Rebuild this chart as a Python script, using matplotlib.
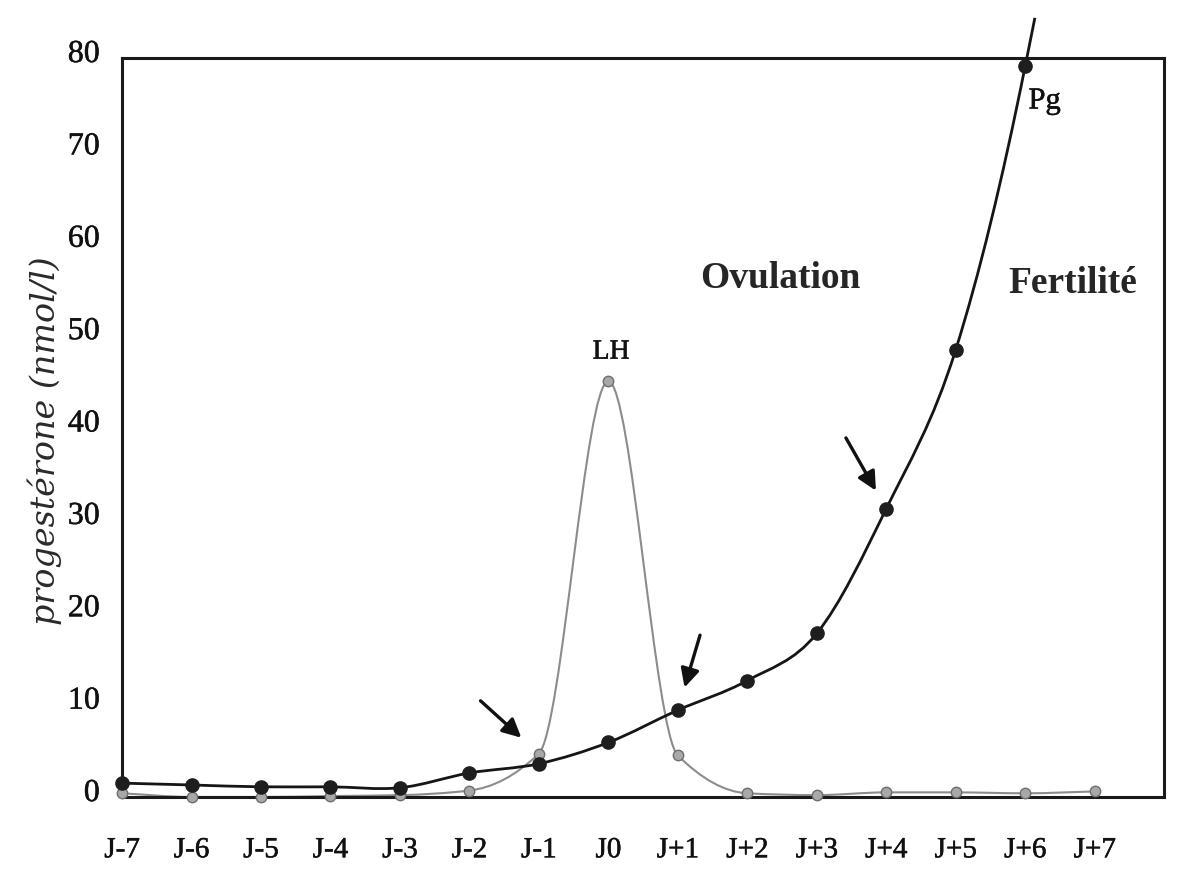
# Progesterone / LH curves around ovulation
import matplotlib

matplotlib.use("Agg")  # Non-interactive backend
import matplotlib.patheffects as pe
import matplotlib.pyplot as plt
import matplotlib.transforms as mtransforms
import numpy as np
from matplotlib.patches import PathPatch
from matplotlib.path import Path

# Data
days = list(range(-7, 8))
day_labels = ["J-7", "J-6", "J-5", "J-4", "J-3", "J-2", "J-1", "J0",
              "J+1", "J+2", "J+3", "J+4", "J+5", "J+6", "J+7"]
pg_days = days[:14]
pg_values = [1.5, 1.3, 1.1, 1.1, 1.0, 2.6, 3.6, 5.9, 9.4, 12.6, 17.7, 31.2, 48.4, 79.1]
lh_values = [0.4, 0.0, 0.0, 0.1, 0.2, 0.7, 4.7, 45.0, 4.5, 0.4, 0.2, 0.5, 0.5, 0.4, 0.6]
y_ticks = [0, 10, 20, 30, 40, 50, 60, 70, 80]

# arrows: (series, day index, tail offset in points, gap before target in points)
arrow_specs = [
    ("lh", 6, (-42, 38), 17),
    ("pg", 8, (16, 54), 17),
    ("pg", 11, (-29, 51), 15),
]


def pchip_slopes(x, y):
    """Monotone cubic (Fritsch-Carlson) slopes, no overshoot."""
    x = np.asarray(x, float)
    y = np.asarray(y, float)
    h = np.diff(x)
    d = np.diff(y) / h
    m = np.zeros_like(y)
    for k in range(1, len(y) - 1):
        if d[k - 1] * d[k] > 0:
            w1 = 2 * h[k] + h[k - 1]
            w2 = h[k] + 2 * h[k - 1]
            m[k] = (w1 + w2) / (w1 / d[k - 1] + w2 / d[k])
    m[0] = d[0]
    m[-1] = d[-1]
    return m


def cardinal_slopes(x, y):
    """Catmull-Rom slopes, gives the softer hand-drawn look."""
    x = np.asarray(x, float)
    y = np.asarray(y, float)
    m = np.gradient(y, x)
    # steeper end tangent so the curve keeps rising past the frame
    d = np.diff(y) / np.diff(x)
    m[-1] = 1.5 * d[-1] - 0.5 * d[-2]
    return m


def smooth_path(x, y, slopes, tail=0.0):
    """Bezier path through the points, optionally continued past the last one."""
    m = slopes(x, y)
    verts = [(x[0], y[0])]
    codes = [Path.MOVETO]
    for k in range(len(x) - 1):
        h = x[k + 1] - x[k]
        verts += [(x[k] + h / 3, y[k] + m[k] * h / 3),
                  (x[k + 1] - h / 3, y[k + 1] - m[k + 1] * h / 3),
                  (x[k + 1], y[k + 1])]
        codes += [Path.CURVE4] * 3
    if tail:
        verts.append((x[-1] + tail, y[-1] + m[-1] * tail))
        codes.append(Path.LINETO)
    return Path(verts, codes)


fig = plt.figure(figsize=(11.78, 8.89), dpi=100)
ax = fig.add_axes([0.1036, 0.1035, 0.8846, 0.8313])

# slightly heavier strokes on the serif text, like the scanned original
heavy = [pe.withStroke(linewidth=0.35, foreground="#111111")]

# LH curve (grey)
ax.add_patch(PathPatch(smooth_path(days, lh_values, pchip_slopes), facecolor="none",
                       edgecolor="#8c8c8c", lw=1.5, zorder=2, clip_on=False))
ax.plot(days, lh_values, "o", ls="none", ms=7.5, color="#a8a8a8",
        mec="#6e6e6e", mew=1, zorder=3, clip_on=False)

# Progesterone curve (black), runs over the top of the frame
ax.add_patch(PathPatch(smooth_path(pg_days, pg_values, cardinal_slopes, tail=0.14),
                       facecolor="none", edgecolor="#151515", lw=2.0, zorder=4,
                       clip_on=False))
ax.plot(pg_days, pg_values, "o", ls="none", ms=9.5, color="#1e1e1e",
        zorder=5, clip_on=False)

# arrows
for series, i, offset, gap in arrow_specs:
    yv = lh_values[i] if series == "lh" else pg_values[i]
    ax.annotate("", xy=(days[i], yv), xytext=offset, textcoords="offset points",
                arrowprops=dict(arrowstyle="-|>", color="#111111", lw=2.4,
                                mutation_scale=28, shrinkA=0, shrinkB=gap),
                zorder=6)

# labels on the curves
ax.annotate("LH", xy=(days[7], lh_values[7]), xytext=(2, 21), textcoords="offset points",
            ha="center", va="center", fontsize=20, family="Liberation Serif",
            color="#111111", path_effects=heavy)
ax.annotate("Pg", xy=(pg_days[-1], pg_values[-1]), xytext=(14, -25), textcoords="offset points",
            ha="center", va="center", fontsize=22, family="Liberation Serif",
            color="#111111", path_effects=heavy)
ax.text(2.47, 56.1, "Ovulation", ha="center", va="center", fontsize=27,
        family="Liberation Serif", fontweight="bold", color="#262626")
ax.text(6.68, 55.6, "Fertilité", ha="center", va="center", fontsize=27,
        family="Liberation Serif", fontweight="bold", color="#262626")

ax.set_xlim(-7, 8)
ax.set_ylim(0, 80)
ax.set_xticks(days)
ax.set_xticklabels(day_labels, family="Liberation Serif", fontsize=21)
ax.set_yticks(y_ticks)
ax.set_yticklabels([str(v) for v in y_ticks], family="Liberation Serif", fontsize=23)
ax.tick_params(axis="x", length=0, pad=29, colors="#111111")
ax.tick_params(axis="y", length=0, pad=16, colors="#111111")
ax.set_ylabel("progestérone (nmol/l)", family="DejaVu Serif", style="italic",
              fontsize=24, color="#2a2a2a")
ax.yaxis.set_label_coords(-0.058, 0.482)

# y labels sit a little above their gridline in the original
shift = mtransforms.ScaledTranslation(0, 5 / 72, fig.dpi_scale_trans)
for lab in ax.get_yticklabels():
    lab.set_transform(lab.get_transform() + shift)
    lab.set_path_effects(heavy)
for lab in ax.get_xticklabels():
    lab.set_path_effects(heavy)

for side in ["left", "right", "top", "bottom"]:
    ax.spines[side].set_linewidth(2.2)
    ax.spines[side].set_color("#1a1a1a")

fig.savefig("out.png", dpi=100)
plt.close(fig)
